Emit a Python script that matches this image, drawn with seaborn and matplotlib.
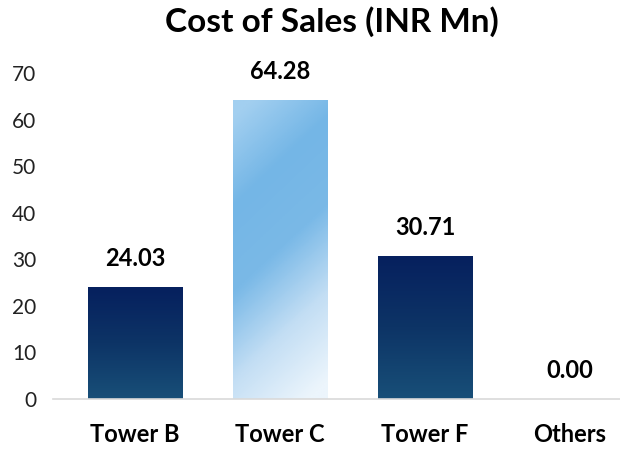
import numpy as np
import pandas as pd
import matplotlib
matplotlib.use("Agg")
import matplotlib.pyplot as plt
from matplotlib.colors import LinearSegmentedColormap
import seaborn as sns

categories = ["Tower B", "Tower C", "Tower F", "Others"]
values = [24.03, 64.28, 30.71, 0.00]
value_labels = ["24.03", "64.28", "30.71", "0.00"]
yticks = [0, 10, 20, 30, 40, 50, 60, 70]

sns.set_theme(style="white")
plt.rcParams["font.family"] = ["Lato", "DejaVu Sans"]

df = pd.DataFrame({"category": categories, "value": values})

fig = plt.figure(figsize=(6.2, 4.49), dpi=100)
ax = fig.add_axes([53/620, 1 - 399/449, 1 - 53/620, (399 - 73)/449])

sns.barplot(data=df, x="category", y="value", ax=ax, width=0.65,
            color="#0e3a6a", saturation=1, edgecolor="none")

dark = LinearSegmentedColormap.from_list("dark", ["#06205e", "#0d3466", "#184f78"])
light = LinearSegmentedColormap.from_list("light", ["#a2cff0", "#74b6e6", "#7ab9e7", "#c3def4", "#ecf5fc"])

for i, p in enumerate(ax.patches):
    x0, y0 = p.get_x(), p.get_y()
    w, h = p.get_width(), p.get_height()
    if h <= 0:
        continue
    yy, xx = np.mgrid[0:1:200j, 0:1:60j]
    if i == 1:
        grad = np.clip(0.8 * yy + 0.25 * xx - 0.05 * (1 - yy), 0, 1)
        cmap = light
    else:
        grad = yy
        cmap = dark
    im = ax.imshow(grad, extent=[x0, x0 + w, y0, y0 + h], origin="upper",
                   cmap=cmap, aspect="auto", zorder=p.get_zorder() + 0.1,
                   vmin=0, vmax=1)
    im.set_clip_path(p)

for i, (v, lab) in enumerate(zip(values, value_labels)):
    ax.annotate(lab, (i, v), xytext=(0, 12), textcoords="offset points",
                ha="center", va="bottom", fontsize=17, fontweight="bold",
                color="black", annotation_clip=False)

ax.set_xlim((53 - 135) / 145, (620 - 135) / 145)
ax.set_ylim(0, 70)
ax.set_yticks(yticks)
ax.set_yticklabels([str(t) for t in yticks], fontsize=15, color="#222222")
ax.tick_params(axis="y", length=0, pad=12)
ax.tick_params(axis="x", length=0, pad=17)
for lbl in ax.get_xticklabels():
    lbl.set_fontsize(17)
    lbl.set_fontweight("bold")
    lbl.set_color("black")
ax.set_xlabel("")
ax.set_ylabel("")
for s in ["top", "right", "left"]:
    ax.spines[s].set_visible(False)
ax.spines["bottom"].set_color("#d9d9d9")
ax.spines["bottom"].set_linewidth(1.2)

fig.text(332/620, 1 - 22/449, "Cost of Sales (INR Mn)", ha="center", va="center",
         fontsize=24, fontweight="bold", color="black")

fig.savefig("out.png", dpi=100)
